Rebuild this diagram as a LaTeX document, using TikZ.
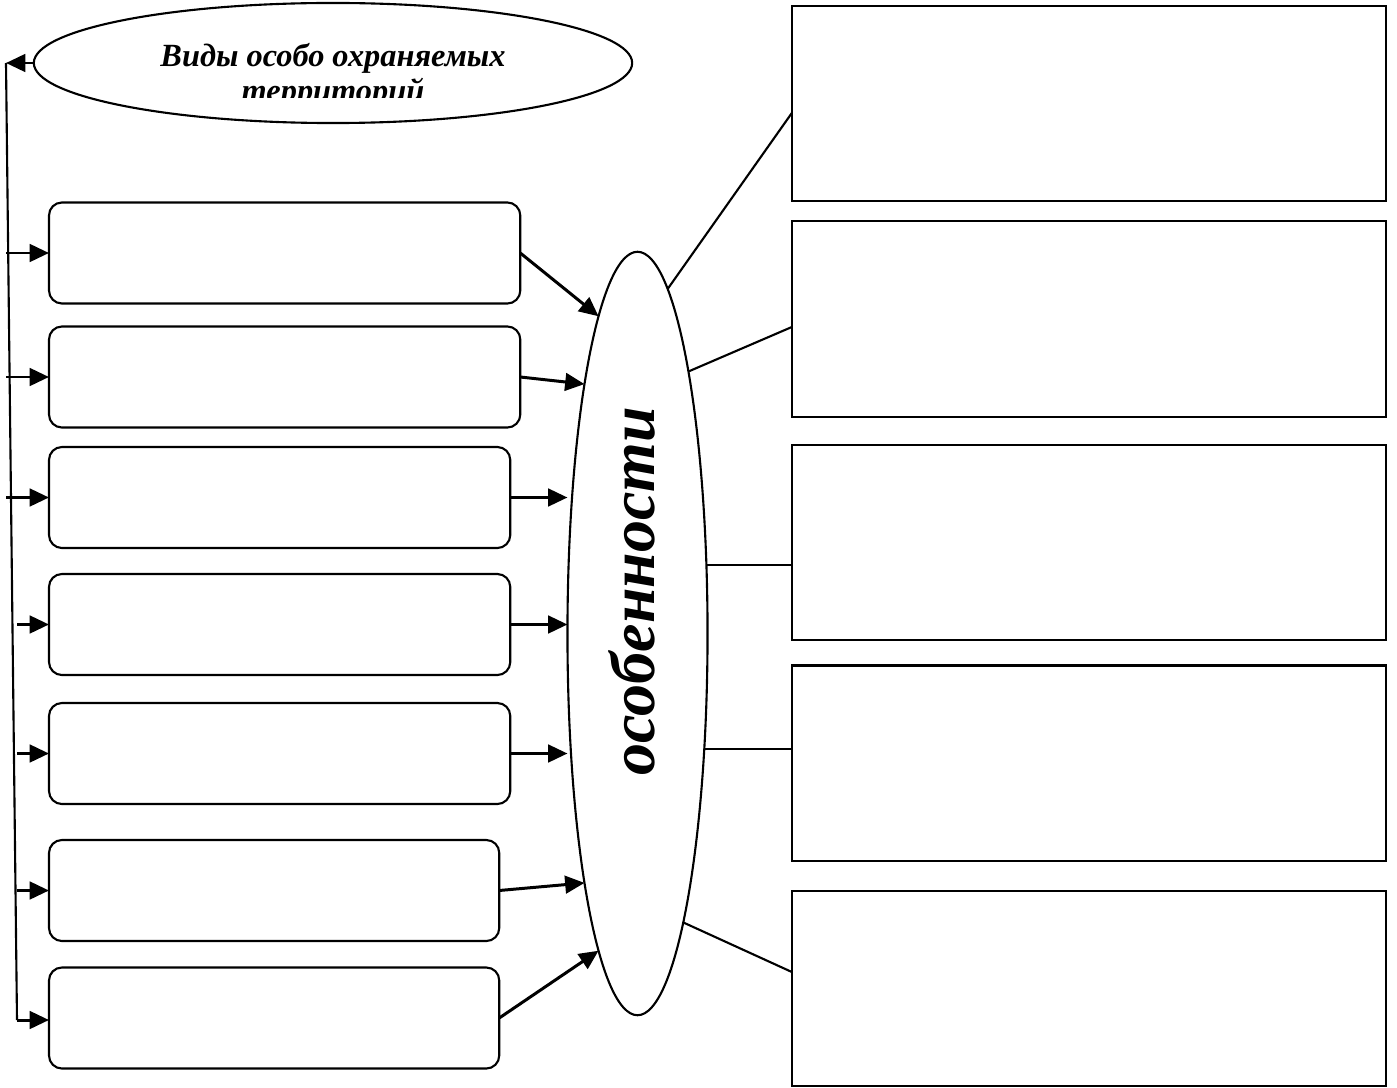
\documentclass[tikz,border=0pt]{standalone}
\usepackage{fontspec}
\setmainfont{Liberation Serif}
\usetikzlibrary{shapes.geometric, arrows.meta, calc}

\begin{document}
\begin{tikzpicture}[x=0.01cm, y=-0.01cm, line width=0.6pt,
    lbox/.style={draw, rounded corners=0.13cm, minimum height=1.01cm, inner sep=0pt, outer sep=0pt, anchor=west},
    rbox/.style={draw, minimum width=5.94cm, minimum height=1.95cm, inner sep=0pt, outer sep=0pt},
    oval/.style={draw, ellipse, inner sep=0pt, outer sep=0pt},
    arr/.style={-{Triangle[length=5.5pt,width=5pt]}, line width=0.85pt},
    title/.style={font=\fontsize{9.2}{9.8}\selectfont\bfseries\itshape, align=center, inner sep=0pt}]
  \useasboundingbox (0,0) rectangle (1397,1088);
  % Title oval
  \node[oval, minimum width=5.98cm, minimum height=1.2cm] (kinds) at (333,63) {};
  \begin{scope}
    \clip (0,0) rectangle (1397,98);
    \node[title] (kindstext) at (333,76) {Виды особо охраняемых\\территорий};
  \end{scope}
  % Features oval
  \node[oval, minimum width=1.4cm, minimum height=7.63cm] (feat) at (637.5,633.5) {};
  \node[rotate=90, inner sep=0pt, font=\fontsize{18.2}{20}\selectfont\bfseries\itshape] (feattext) at (632,591) {особенности};
  % Left boxes
  \foreach \n/\y/\w in {1/253/4.71, 2/377/4.71, 3/497.5/4.61, 4/624.5/4.61, 5/753.5/4.61, 6/890.5/4.50, 7/1018/4.50} {
    \node[lbox, minimum width=\w cm] (b\n) at (49,\y) {};
  }
  % Right boxes
  \foreach \n/\y in {1/103.5, 2/319, 3/542.5, 4/763, 5/988.5} {
    \node[rbox] (r\n) at (1089,\y) {};
  }
  % Left bus
  \coordinate (lt) at (6,63);
  \coordinate (lb) at (17,1020);
  \draw[arr] (kinds.west) -- (lt);
  \draw (lt) -- (lb);
  \draw[arr] (lb) -- (lb -| b7.west);
  \foreach \n in {1,2,3} {
    \draw[arr] (b\n.west -| lt) -- (b\n.west);
  }
  \foreach \n in {4,5,6} {
    \draw[arr] (b\n.west -| lb) -- (b\n.west);
  }
  % Into features
  \draw[arr] (b1.east) -- (feat.97);
  \draw[arr] (b2.east) -- (feat.102);
  \foreach \n in {3,4,5} {
    \draw[arr] (b\n.east) -- (b\n.east -| feat.west);
  }
  \draw[arr] (b6.east) -- (feat.258);
  \draw[arr] (b7.east) -- (feat.263);
  % Out to boxes
  \draw (feat.85) -- ([yshift=-0.095cm]r1.west);
  \draw (feat.79) -- ([yshift=-0.08cm]r2.west);
  \draw (feat.45) -- (feat.45 -| r3.west);
  \draw (feat.-60) -- (feat.-60 -| r4.west);
  \draw (feat.-81) -- ([yshift=0.165cm]r5.west);
\end{tikzpicture}
\end{document}
